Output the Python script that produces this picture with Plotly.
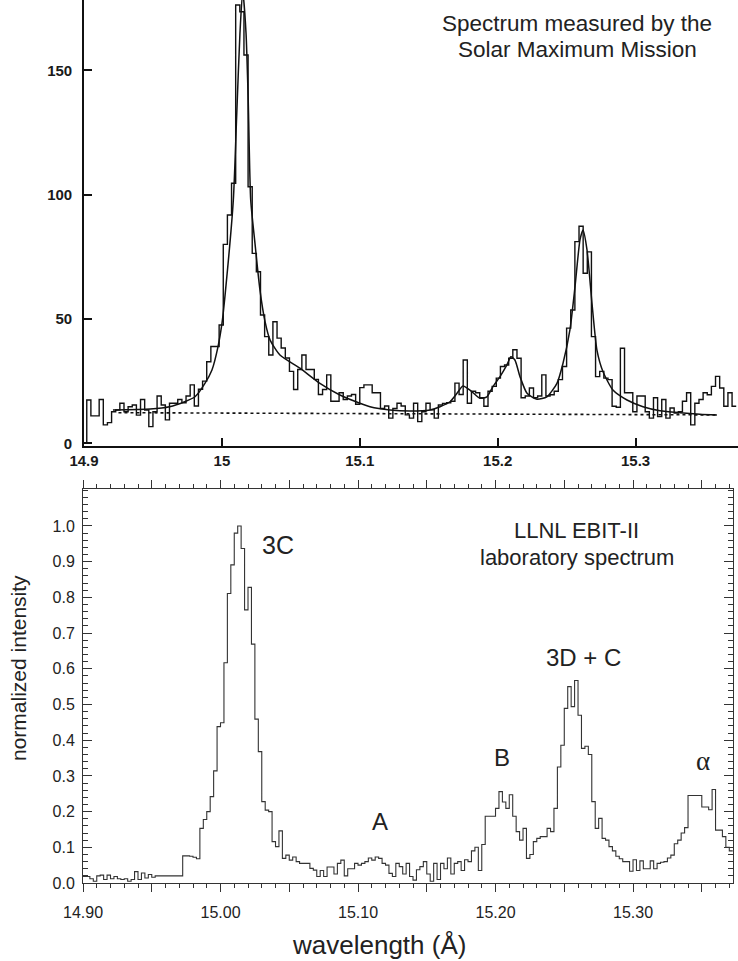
import plotly.graph_objects as go

W, H = 738, 961

# ---------------- Top panel: Solar Maximum Mission spectrum ----------------
smm_start = 14.902      # Å, left edge of first bin
smm_step = 0.003        # Å, bin width
smm_counts = [
    17.4, 11.0, 11.0, 17.6, 7.4, 8.3, 12.7, 13.4, 16.1, 12.7,
    14.7, 15.4, 11.3, 17.6, 13.4, 6.7, 12.7, 19.0, 15.4, 9.4,
    16.1, 16.1, 17.6, 16.3, 19.0,
    23.5, 15.0, 21.7, 25.0, 32.8, 38.9, 38.9, 47.6, 80.0, 91.8,
    104.6, 176.3, 173.6, 156.2, 103.2,
    76.4, 69.0, 51.6, 42.9, 35.5, 48.9, 42.3, 38.3, 34.3, 28.9,
    21.6, 29.7, 35.5, 29.7, 29.7, 25.7, 19.6, 21.6, 27.5, 16.9,
    16.9, 20.3, 17.6, 19.0, 19.6, 15.7, 22.4, 23.5,
    23.5, 20.3, 20.3, 14.0, 15.0, 10.1, 14.0, 16.1, 15.0, 11.4,
    10.1, 16.1, 8.7, 12.7, 16.1, 13.5, 10.1, 15.4, 16.0, 16.3,
    16.9, 24.2, 19.6, 33.5, 16.1, 20.9, 20.3, 18.3, 14.9, 20.9,
    22.9, 26.2, 30.9, 31.5, 34.2, 37.6, 34.2, 18.3, 19.0, 22.2,
    18.3, 19.0, 27.5, 19.0, 19.5, 20.9, 25.6, 30.9, 46.3, 53.6,
    81.1, 87.3, 68.4, 77.0, 42.9, 26.8, 28.9, 26.2, 25.6, 14.9,
    14.5, 38.2, 20.3, 20.3, 12.7, 19.0, 19.0, 12.7, 10.1, 18.3,
    10.7, 17.6, 10.1, 14.2, 12.2, 12.7, 16.9, 20.3, 7.4, 16.1,
    17.6, 20.3, 19.5, 22.9, 26.9, 22.2, 14.9, 20.3, 14.9,
]

fit_wl = [14.921, 14.948, 14.962, 14.973, 14.9805, 14.9877, 14.9928, 14.9972, 15.0001, 15.0022,
          15.0083, 15.0107, 15.0131, 15.0151, 15.0175, 15.0191, 15.0209, 15.024, 15.0276, 15.0313,
          15.0349, 15.0421, 15.0566, 15.0711, 15.0856, 15.1001, 15.1074, 15.1219, 15.1364, 15.1509,
          15.1582, 15.1654, 15.1705, 15.1748, 15.1799, 15.1872, 15.1922, 15.1966, 15.2017, 15.2067,
          15.2096, 15.2125, 15.2162, 15.2213, 15.2285, 15.2357, 15.243, 15.2474, 15.2524, 15.2561,
          15.2597, 15.2619, 15.2648, 15.2684, 15.272, 15.2764, 15.2836, 15.2938, 15.3054, 15.3177,
          15.3322, 15.3467, 15.359]
fit_counts = [13.4, 13.8, 14.7, 16.7, 18.7, 24.1, 29.5, 38.9, 48.4, 59.0,
              97.9, 131.4, 164.9, 182.0, 165.0, 138.0, 97.9, 80.4, 61.7, 48.9,
              41.6, 35.5, 30.2, 24.1, 19.4, 16.1, 14.7, 13.4, 13.0, 13.4,
              14.7, 16.7, 20.1, 23.0, 21.4, 18.1, 18.7, 22.8, 26.8, 31.5,
              34.8, 33.5, 26.8, 20.1, 17.7, 18.7, 24.1, 32.2, 45.6, 63.0,
              81.8, 85.8, 77.8, 56.3, 37.5, 28.8, 21.4, 17.4, 14.7, 13.1,
              12.3, 11.7, 11.4]

base_wl = [14.925, 15.36]
base_counts = [12.3, 11.4]

smm_yticks = [0, 50, 100, 150]
smm_xticks = [14.9, 15.0, 15.1, 15.2, 15.3]
smm_xticktext = ["14.9", "15", "15.1", "15.2", "15.3"]

# ---------------- Bottom panel: LLNL EBIT-II spectrum ----------------
ebit_start = 14.900
ebit_step = 0.0025
ebit_intensity = [
    # 14.900 - 14.972 baseline
    0.018, 0.018, 0.012, 0.005, 0.020, 0.022, 0.010, 0.022, 0.012, 0.018,
    0.012, 0.010, 0.012, 0.005, 0.010, 0.032, 0.010, 0.028, 0.014, 0.024,
    0.016, 0.020, 0.020, 0.020, 0.020, 0.020, 0.020, 0.020, 0.020,
    # shoulder
    0.076, 0.076, 0.075, 0.072, 0.068,
    # 3C
    0.153, 0.178, 0.200, 0.242, 0.314, 0.438, 0.449, 0.617, 0.811, 0.891,
    0.980, 1.000, 0.937, 0.765, 0.828, 0.669, 0.459, 0.368, 0.228, 0.204,
    0.200, 0.116, 0.102, 0.146, 0.069,
    # continuum with A
    0.078, 0.064, 0.073, 0.060, 0.055, 0.055, 0.055, 0.041, 0.036, 0.018,
    0.035, 0.018, 0.045, 0.045, 0.025, 0.055, 0.064, 0.020, 0.040, 0.040,
    0.055, 0.050, 0.055, 0.060, 0.070, 0.064, 0.073, 0.069, 0.055, 0.050,
    0.027, 0.018, 0.055,
    0.046, 0.025, 0.055, 0.018, 0.008, 0.037, 0.046, 0.060, 0.025, 0.005,
    0.055, 0.010, 0.055, 0.040, 0.070, 0.025, 0.055, 0.060, 0.035, 0.065,
    0.060, 0.090, 0.100, 0.035, 0.108,
    # B
    0.187, 0.187, 0.187, 0.209, 0.256, 0.227, 0.209, 0.247, 0.187, 0.144,
    0.120, 0.153, 0.069, 0.080, 0.116, 0.125, 0.130, 0.130, 0.153, 0.144,
    0.209,
    # 3D + C
    0.325, 0.386, 0.489, 0.550, 0.494, 0.567, 0.470, 0.377, 0.383, 0.360,
    0.228, 0.153, 0.181, 0.125, 0.120, 0.102, 0.090, 0.075,
    # continuum
    0.068, 0.060, 0.060, 0.033, 0.065, 0.035, 0.062, 0.040, 0.040, 0.062,
    0.040, 0.055, 0.058, 0.060, 0.070, 0.078, 0.110, 0.120, 0.140, 0.155,
    # alpha
    0.245, 0.245, 0.245, 0.245, 0.213, 0.213, 0.205, 0.262, 0.148, 0.148,
    0.130, 0.100, 0.090,
]

ebit_major_x = [14.90, 14.95, 15.00, 15.05, 15.10, 15.15, 15.20, 15.25, 15.30, 15.35]
ebit_major_xtext = ["14.90", "", "15.00", "", "15.10", "", "15.20", "", "15.30", ""]
ebit_yticks = [0.0, 0.1, 0.2, 0.3, 0.4, 0.5, 0.6, 0.7, 0.8, 0.9, 1.0]
ebit_ytext = ["0.0", "0.1", "0.2", "0.3", "0.4", "0.5", "0.6", "0.7", "0.8", "0.9", "1.0"]

line_labels = ["3C", "A", "B", "3D + C", "α"]


def steps(start, step, vals, lead_zero=False):
    xs = [round(start + i * step, 6) for i in range(len(vals) + 1)]
    ys = list(vals) + [vals[-1]]
    if lead_zero:
        xs = [xs[0]] + xs
        ys = [0] + ys
    return xs, ys


def px(x):
    return x / W


def py(y):
    return 1 - y / H


FONT = "Liberation Sans, Arial, Helvetica, sans-serif"

fig = go.Figure()

sx, sy = steps(smm_start, smm_step, smm_counts, lead_zero=True)
fig.add_trace(go.Scatter(x=sx, y=sy, mode="lines", line=dict(shape="hv", color="#111", width=1.4),
                         xaxis="x", yaxis="y", showlegend=False, hoverinfo="skip"))
fig.add_trace(go.Scatter(x=fit_wl, y=fit_counts, mode="lines",
                         line=dict(shape="spline", smoothing=0.6, color="#111", width=1.5),
                         xaxis="x", yaxis="y", showlegend=False, hoverinfo="skip"))
fig.add_trace(go.Scatter(x=base_wl, y=base_counts, mode="lines",
                         line=dict(color="#111", width=1.6, dash="dot"),
                         xaxis="x", yaxis="y", showlegend=False, hoverinfo="skip"))

ex, ey = steps(ebit_start, ebit_step, ebit_intensity)
fig.add_trace(go.Scatter(x=ex, y=ey, mode="lines", line=dict(shape="hv", color="#333", width=1.1),
                         xaxis="x2", yaxis="y2", showlegend=False, hoverinfo="skip"))

TOPFONT = dict(size=15, color="#1a1a1a", weight="bold")

fig.update_layout(
    width=W, height=H, margin=dict(l=0, r=0, t=0, b=0, autoexpand=False),
    paper_bgcolor="white", plot_bgcolor="white",
    font=dict(family=FONT, color="#222"),
    showlegend=False,
    xaxis=dict(domain=[px(84), 1.0], range=[14.9, 15.3743], anchor="y", automargin=False,
               tickmode="array", tickvals=smm_xticks, ticktext=smm_xticktext,
               ticks="inside", ticklen=8, tickwidth=1.5, tickcolor="#111",
               showline=True, linecolor="#111", linewidth=1.6,
               showgrid=False, zeroline=False,
               tickfont=TOPFONT, ticklabelstandoff=0),
    yaxis=dict(domain=[py(446), 1.0], range=[-1.1, 178.3], anchor="x", automargin=False,
               tickmode="array", tickvals=smm_yticks,
               ticks="inside", ticklen=8, tickwidth=1.5, tickcolor="#111",
               showline=True, linecolor="#111", linewidth=1.6,
               showgrid=False, zeroline=False,
               tickfont=TOPFONT, ticklabelstandoff=7),
    xaxis2=dict(domain=[px(83), px(733)], range=[14.90, 15.3727], anchor="y2", automargin=False,
                tickmode="array", tickvals=ebit_major_x, ticktext=ebit_major_xtext,
                ticks="outside", ticklen=8, tickwidth=1, tickcolor="#333",
                minor=dict(tickmode="linear", tick0=14.90, dtick=0.01, ticklen=4,
                           ticks="outside", tickwidth=1, tickcolor="#333"),
                mirror="ticks", showline=True, linecolor="#333", linewidth=1,
                showgrid=False, zeroline=False,
                tickfont=dict(size=16, color="#222"), ticklabelstandoff=7),
    yaxis2=dict(domain=[py(883), py(489)], range=[0, 1.1036], anchor="x2", automargin=False,
                tickmode="array", tickvals=ebit_yticks, ticktext=ebit_ytext,
                ticks="inside", ticklen=9, tickwidth=1, tickcolor="#333",
                minor=dict(tickmode="linear", tick0=0, dtick=0.02, ticklen=5,
                           ticks="inside", tickwidth=1, tickcolor="#333"),
                mirror="ticks", showline=True, linecolor="#333", linewidth=1,
                showgrid=False, zeroline=False,
                tickfont=dict(size=16, color="#222"), ticklabelstandoff=4),
)

ann = []


def add_text(text, x, y, size, family=FONT, angle=0):
    ann.append(dict(text=text, x=px(x), y=py(y), xref="paper", yref="paper",
                    xanchor="center", yanchor="middle", showarrow=False,
                    textangle=angle, font=dict(size=size, family=family, color="#222")))


add_text("Spectrum measured by the", 577, 23, 22.5)
add_text("Solar Maximum Mission", 577, 50, 22.5)
add_text("LLNL EBIT-II", 576, 530, 22)
add_text("laboratory spectrum", 577, 557, 22)
add_text(line_labels[0], 278, 545, 25)
add_text(line_labels[1], 380, 821, 24)
add_text(line_labels[2], 502, 757, 24)
add_text(line_labels[3], 583, 657, 24)
add_text(line_labels[4], 703, 761, 27, family="Liberation Serif, Times New Roman, serif")
add_text("normalized intensity", 18, 668, 21, angle=-90)
add_text("wavelength (Å)", 379, 945, 26)

fig.update_layout(annotations=ann)

fig.write_html("out.html")
